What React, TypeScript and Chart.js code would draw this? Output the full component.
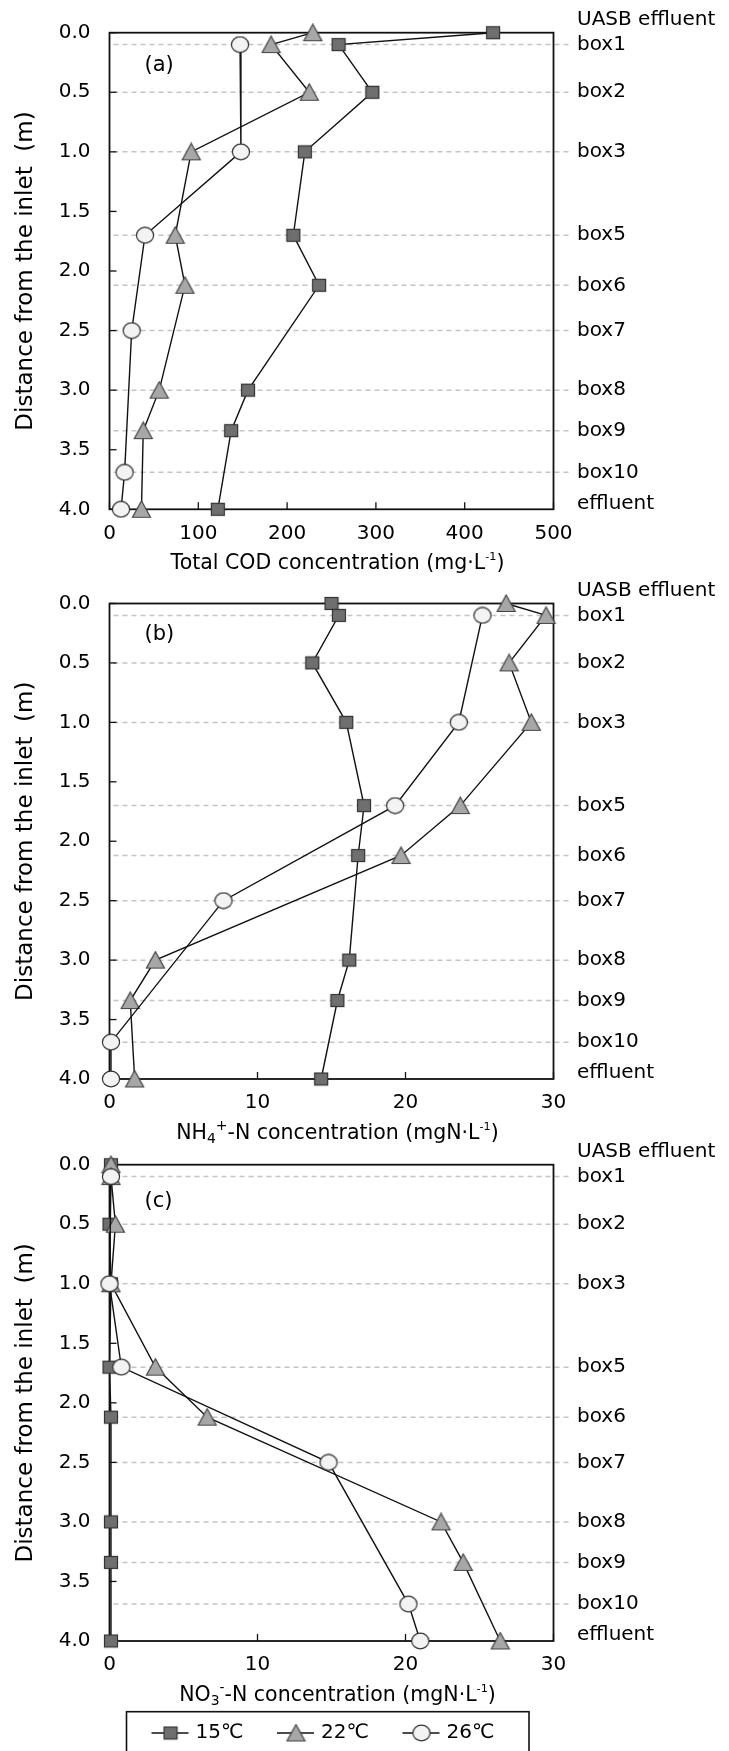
import React, { useEffect, useRef } from "react";
import { Chart, registerables } from "chart.js";

Chart.register(...registerables);

const FONT = "'DejaVu Sans', 'Liberation Sans', sans-serif";

// ---- data ----
const boxLabels = ["UASB effluent", "box1", "box2", "box3", "box5", "box6", "box7", "box8", "box9", "box10", "effluent"];
const boxDistance = [0, 0.1, 0.5, 1.0, 1.7, 2.12, 2.5, 3.0, 3.34, 3.69, 4.0];
const seriesLabels = ["15℃", "22℃", "26℃"];
const distanceTicks = [0, 0.5, 1.0, 1.5, 2.0, 2.5, 3.0, 3.5, 4.0];

const cod15 = [432, 258, 296, 220, 207, 236, null, 156, 137, null, 122];
const cod22 = [229, 182, 225, 92, 74, 85, null, 56, 38, null, 36];
const cod26 = [null, 147, null, 148, 40, null, 25, null, null, 17, 13];

const nh15 = [15.0, 15.5, 13.7, 16.0, 17.2, 16.8, null, 16.2, 15.4, null, 14.3];
const nh22 = [26.8, 29.5, 27.0, 28.5, 23.7, 19.7, null, 3.1, 1.4, null, 1.7];
const nh26 = [null, 25.2, null, 23.6, 19.3, null, 7.7, null, null, 0.1, 0.1];

const no15 = [0.1, 0.1, 0.0, 0.1, 0.0, 0.1, null, 0.1, 0.1, null, 0.1];
const no22 = [0.1, 0.1, 0.4, 0.1, 3.1, 6.6, null, 22.4, 23.9, null, 26.4];
const no26 = [null, 0.1, null, 0.0, 0.8, null, 14.8, null, null, 20.2, 21.0];

const codTitle: [string, number][] = [["Total COD concentration (mg·L", 0], ["-1", 2], [")", 0]];
const nhTitle: [string, number][] = [["NH", 0], ["4", -1], ["+", 1], ["-N concentration (mgN·L", 0], ["-1", 2], [")", 0]];
const noTitle: [string, number][] = [["NO", 0], ["3", -1], ["-", 1], ["-N concentration (mgN·L", 0], ["-1", 2], [")", 0]];

// ---- layout ----
const W = 729;
const PLOT_LEFT = 109.5;
const PLOT_RIGHT = 553.5;
const XAXIS_H = 40;

const panels = [
  { key: "a", tag: "(a)", series: [cod15, cod22, cod26], xMax: 500, xStep: 100, title: codTitle,
    canvasTop: 0, canvasHeight: 600, plotTop: 32.7, plotBottom: 509.3, tagDy: 33, legend: false },
  { key: "b", tag: "(b)", series: [nh15, nh22, nh26], xMax: 30, xStep: 10, title: nhTitle,
    canvasTop: 560, canvasHeight: 600, plotTop: 603.5, plotBottom: 1079, tagDy: 31.5, legend: false },
  { key: "c", tag: "(c)", series: [no15, no22, no26], xMax: 30, xStep: 10, title: noTitle,
    canvasTop: 1120, canvasHeight: 631, plotTop: 1164.7, plotBottom: 1641, tagDy: 37, legend: true },
];

function markerCanvas(w: number, h: number, draw: (g: CanvasRenderingContext2D) => void) {
  const c = document.createElement("canvas");
  c.width = w;
  c.height = h;
  const g = c.getContext("2d")!;
  draw(g);
  return c;
}

function makeMarkers() {
  const square = markerCanvas(16, 15, (g) => {
    g.fillStyle = "#6f6f6f";
    g.fillRect(1, 1, 14, 13);
    g.strokeStyle = "#333";
    g.lineWidth = 1.2;
    g.strokeRect(1.5, 1.5, 13, 12);
  });
  const tri = markerCanvas(21, 19, (g) => {
    g.beginPath();
    g.moveTo(10.5, 1);
    g.lineTo(19.5, 17.5);
    g.lineTo(1.5, 17.5);
    g.closePath();
    g.fillStyle = "#a7a7a7";
    g.fill();
    g.strokeStyle = "#444";
    g.lineWidth = 1.2;
    g.stroke();
  });
  const circ = markerCanvas(20, 18, (g) => {
    g.beginPath();
    g.ellipse(10, 9, 8.6, 7.8, 0, 0, Math.PI * 2);
    g.fillStyle = "#f3f3f3";
    g.fill();
    g.strokeStyle = "#333";
    g.lineWidth = 1.2;
    g.stroke();
  });
  return [square, tri, circ];
}

function drawRichText(ctx: CanvasRenderingContext2D, parts: [string, number][], cx: number, baseY: number, size: number) {
  const fontFor = (k: number) => {
    const s = k === 0 ? size : k === 2 ? size * 0.55 : size * 0.68;
    return `${s}px ${FONT}`;
  };
  const shift = (k: number) => (k === 0 ? 0 : k === -1 ? size * 0.22 : -size * 0.42);
  let total = 0;
  parts.forEach(([t, k]) => {
    ctx.font = fontFor(k);
    total += ctx.measureText(t).width;
  });
  let x = cx - total / 2;
  ctx.textAlign = "left";
  ctx.textBaseline = "alphabetic";
  parts.forEach(([t, k]) => {
    ctx.font = fontFor(k);
    ctx.fillText(t, x, baseY + shift(k));
    x += ctx.measureText(t).width;
  });
}

function decor(cfg: any, markers: HTMLCanvasElement[]) {
  return {
    id: "decor" + cfg.key,
    beforeDatasetsDraw(chart: any) {
      const { ctx, chartArea, scales } = chart;
      const { left, right, top, bottom } = chartArea;
      const x = scales.x;
      const y = scales.y;
      ctx.save();
      // dashed box lines
      ctx.strokeStyle = "#c4c4c4";
      ctx.lineWidth = 1.5;
      ctx.setLineDash([5, 4]);
      boxDistance.forEach((d, i) => {
        if (i === 0 || i === boxDistance.length - 1) return;
        const py = y.getPixelForValue(d);
        ctx.beginPath();
        ctx.moveTo(left + 4, py);
        ctx.lineTo(right + 17, py);
        ctx.stroke();
      });
      ctx.setLineDash([]);
      // inner ticks
      ctx.strokeStyle = "#111";
      ctx.lineWidth = 1.3;
      x.ticks.forEach((t: any) => {
        const px = x.getPixelForValue(t.value);
        ctx.beginPath();
        ctx.moveTo(px, bottom);
        ctx.lineTo(px, bottom - 7);
        ctx.stroke();
      });
      y.ticks.forEach((t: any) => {
        const py = y.getPixelForValue(t.value);
        ctx.beginPath();
        ctx.moveTo(left, py);
        ctx.lineTo(left + 7, py);
        ctx.stroke();
      });
      // frame
      ctx.lineWidth = 1.8;
      ctx.strokeRect(left, top, right - left, bottom - top);
      ctx.restore();
    },
    afterDraw(chart: any) {
      const { ctx, chartArea, scales } = chart;
      const { left, right, top, bottom } = chartArea;
      const y = scales.y;
      ctx.save();
      ctx.fillStyle = "#000";
      // right side box labels
      ctx.font = `20px ${FONT}`;
      ctx.textAlign = "left";
      ctx.textBaseline = "middle";
      boxLabels.forEach((lab, i) => {
        let py = y.getPixelForValue(boxDistance[i]);
        if (i === 0) py -= 12.5;
        if (i === boxLabels.length - 1) py -= 6;
        ctx.fillText(lab, right + 23.5, py);
      });
      // panel tag
      ctx.font = `21px ${FONT}`;
      ctx.fillText(cfg.tag, left + 35, top + cfg.tagDy);
      // x title
      drawRichText(ctx, cfg.title, (left + right) / 2 + 6, bottom + 59.5, 20.5);
      // legend
      if (cfg.legend) {
        const bx = left + 17;
        const bw = 402.5;
        const bt = bottom + 70.7;
        const cy = bottom + 92;
        ctx.strokeStyle = "#111";
        ctx.lineWidth = 1.6;
        ctx.strokeRect(bx, bt, bw, 80);
        ctx.font = `20px ${FONT}`;
        ctx.textBaseline = "middle";
        seriesLabels.forEach((lab, i) => {
          const lx = bx + 25 + i * 125.5;
          ctx.strokeStyle = "#111";
          ctx.lineWidth = 1.4;
          ctx.beginPath();
          ctx.moveTo(lx, cy);
          ctx.lineTo(lx + 37, cy);
          ctx.stroke();
          const m = markers[i];
          ctx.drawImage(m, lx + 19 - m.width / 2, cy - m.height / 2);
          ctx.fillStyle = "#000";
          ctx.fillText(lab, lx + 44, cy);
        });
      }
      ctx.restore();
    },
  };
}

function Panel({ cfg }: { cfg: any }) {
  const ref = useRef<HTMLCanvasElement>(null);
  useEffect(() => {
    const canvas = ref.current!;
    const markers = makeMarkers();
    const datasets = cfg.series.map((vals: (number | null)[], i: number) => ({
      label: seriesLabels[i],
      data: vals
        .map((v, j) => (v == null ? null : { x: v, y: boxDistance[j] }))
        .filter((p) => p !== null),
      showLine: true,
      borderColor: "#111",
      borderWidth: 1.4,
      pointStyle: markers[i],
      pointRadius: 8,
      pointHoverRadius: 8,
      clip: false,
      order: 3 - i,
      tension: 0,
    }));
    const padTop = cfg.plotTop - cfg.canvasTop;
    const padBottom = cfg.canvasTop + cfg.canvasHeight - cfg.plotBottom - XAXIS_H;
    const chart = new Chart(canvas, {
      type: "scatter",
      data: { datasets },
      options: {
        animation: false,
        responsive: false,
        devicePixelRatio: 1,
        events: [],
        layout: { autoPadding: false, padding: { left: 0, right: W - PLOT_RIGHT, top: padTop, bottom: padBottom } },
        scales: {
          x: {
            type: "linear",
            position: "bottom",
            min: 0,
            max: cfg.xMax,
            ticks: { stepSize: cfg.xStep, padding: 12, color: "#000", font: { family: FONT, size: 20 } },
            grid: { display: false, drawTicks: false },
            border: { display: false },
            afterFit: (s: any) => {
              s.height = XAXIS_H;
            },
          },
          y: {
            type: "linear",
            position: "left",
            reverse: true,
            min: 0,
            max: 4,
            afterBuildTicks: (s: any) => {
              s.ticks = distanceTicks.map((v) => ({ value: v }));
            },
            ticks: {
              padding: 19,
              color: "#000",
              font: { family: FONT, size: 20 },
              callback: (v: any) => Number(v).toFixed(1),
            },
            grid: { display: false, drawTicks: false },
            border: { display: false },
            title: {
              display: true,
              text: "Distance from the inlet  (m)",
              color: "#000",
              font: { family: FONT, size: 23 },
              padding: { top: 12, bottom: 0 },
            },
            afterFit: (s: any) => {
              s.width = PLOT_LEFT;
            },
          },
        },
        plugins: { legend: { display: false }, tooltip: { enabled: false } },
      },
      plugins: [decor(cfg, markers)],
    } as any);
    return () => chart.destroy();
  }, []);
  return (
    <canvas
      ref={ref}
      width={W}
      height={cfg.canvasHeight}
      style={{ position: "absolute", left: 0, top: cfg.canvasTop, width: W, height: cfg.canvasHeight }}
    />
  );
}

export default function App() {
  return (
    <div style={{ position: "absolute", left: 0, top: 0, width: W, height: 1751, overflow: "hidden", background: "#fff" }}>
      {panels.map((p) => (
        <Panel key={p.key} cfg={p} />
      ))}
    </div>
  );
}
